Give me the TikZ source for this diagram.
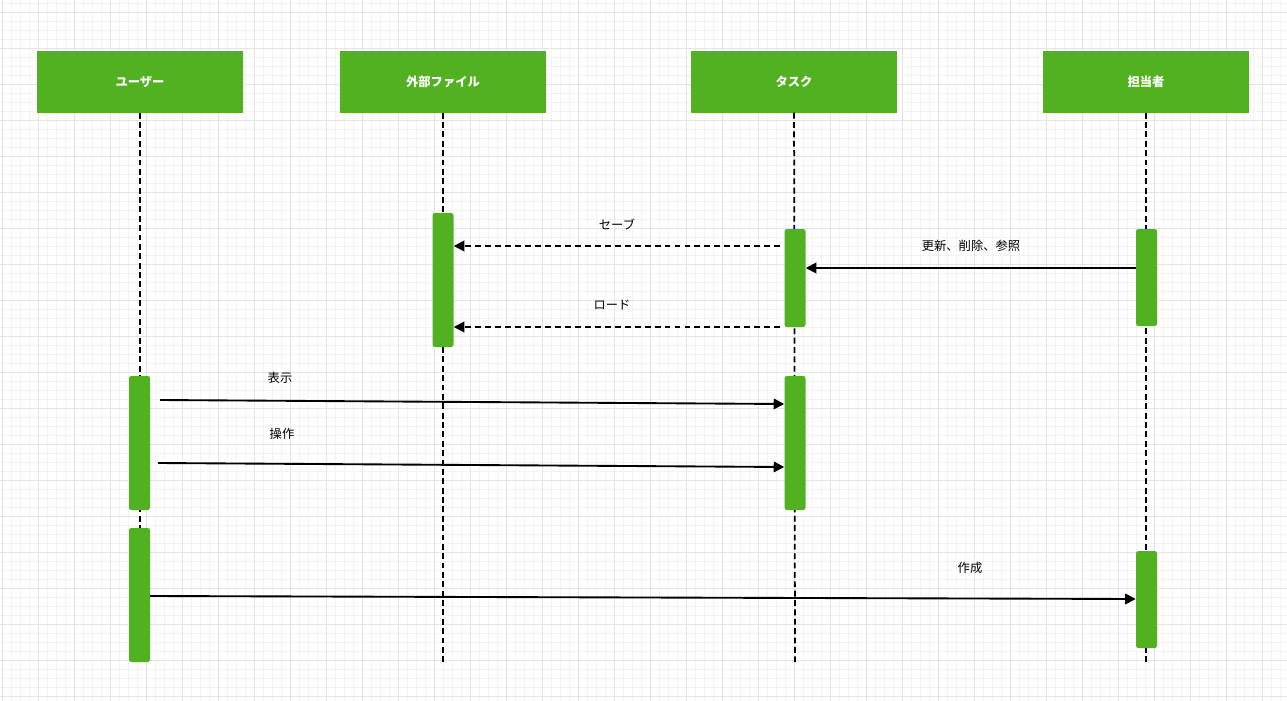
\documentclass[tikz,border=0pt]{standalone}
\usepackage{fontspec}
\setmainfont{Noto Sans CJK JP}
\usetikzlibrary{arrows.meta,positioning}
\definecolor{headgreen}{HTML}{52B120}
\definecolor{gridminor}{HTML}{F3F3F3}
\definecolor{gridmajor}{HTML}{E4E4E4}

\begin{document}
\begin{tikzpicture}[x=0.03cm,y=-0.03cm,>={Triangle[length=9pt,width=9pt]},
    head node/.style={fill=headgreen,text=white,font=\bfseries\fontsize{10.5}{12}\selectfont,minimum width=6.18cm,minimum height=1.83cm,inner sep=0pt},
    act bar/.style={fill=headgreen,rounded corners=2pt,minimum width=0.63cm,inner sep=0pt},
    life line/.style={line width=1.5pt,dash pattern=on 5pt off 3pt},
    msg/.style={->,line width=1.6pt},
    reply/.style={->,line width=1.6pt,dash pattern=on 5pt off 3.5pt},
    msg label/.style={font=\fontsize{10.5}{12}\selectfont,inner sep=1pt}]
                    \useasboundingbox (0,0) rectangle (1287,701);
                    \fill[white] (0,0) rectangle (1287,701);
                    % grid
                    \foreach \x in {2,11,...,1287} \draw[gridminor,line width=0.5pt] (\x,0) -- (\x,701);
                    \foreach \y in {3,12,...,701} \draw[gridminor,line width=0.5pt] (0,\y) -- (1287,\y);
                    \foreach \x in {2,38,...,1287} \draw[gridmajor,line width=0.8pt] (\x,0) -- (\x,701);
                    \foreach \y in {12,48,...,701} \draw[gridmajor,line width=0.8pt] (0,\y) -- (1287,\y);

                    % heads
                    \node[head node] (user) at (140,82) {ユーザー};
                    \node[head node] (file) at (443,82) {外部ファイル};
                    \node[head node] (task) at (794,82) {タスク};
                    \node[head node] (staff) at (1146,82) {担当者};

                    \coordinate (user end) at (140,664);
                    \coordinate (file end) at (443,664);
                    \coordinate (task end) at (795,664);
                    \coordinate (staff end) at (1146,664);

                    \draw[life line] (user) -- (user end);
                    \draw[life line] (file) -- (file end);
                    \draw[life line] (task) -- (task end);
                    \draw[life line] (staff) -- (staff end);

                    % activations
                    \node[act bar,minimum height=4.02cm] (file bar) at (443,280) {};
                    \node[act bar,minimum height=2.94cm] (task bar1) at (795,278) {};
                    \node[act bar,minimum height=2.91cm] (staff bar1) at (1146.5,277.5) {};
                    \node[act bar,minimum height=4.02cm] (user bar1) at (139.5,443) {};
                    \node[act bar,minimum height=4.02cm] (task bar2) at (795,443) {};
                    \node[act bar,minimum height=4.02cm] (user bar2) at (139.5,595) {};
                    \node[act bar,minimum height=2.91cm] (staff bar2) at (1146.5,599.5) {};

                    % messages
                    \coordinate (save from) at (780,246);
                    \coordinate (load from) at (780,327);
                    \coordinate (show from) at (160,400);
                    \coordinate (op from) at (158,463);

                    \draw[reply] (save from) -- (file bar.east |- save from);
                    \draw[reply] (load from) -- (file bar.east |- load from);
                    \draw[msg] (staff bar1.west |- 0,268) -- (task bar1.east |- 0,268);
                    \draw[msg] (show from) -- (task bar2.west |- 0,404);
                    \draw[msg] (op from) -- (task bar2.west |- 0,467);
                    \draw[msg] (user bar2.east |- 0,596) -- (staff bar2.west |- 0,599);

                    \node[msg label] (save) at (617,224) {セーブ};
                    \node[msg label] (load) at (612,305) {ロード};
                    \node[msg label] (edit) at (971,246) {更新、削除、参照};
                    \node[msg label] (show) at (280,378) {表示};
                    \node[msg label] (op) at (282,434) {操作};
                    \node[msg label] (make) at (970,568) {作成};
\end{tikzpicture}
\end{document}
